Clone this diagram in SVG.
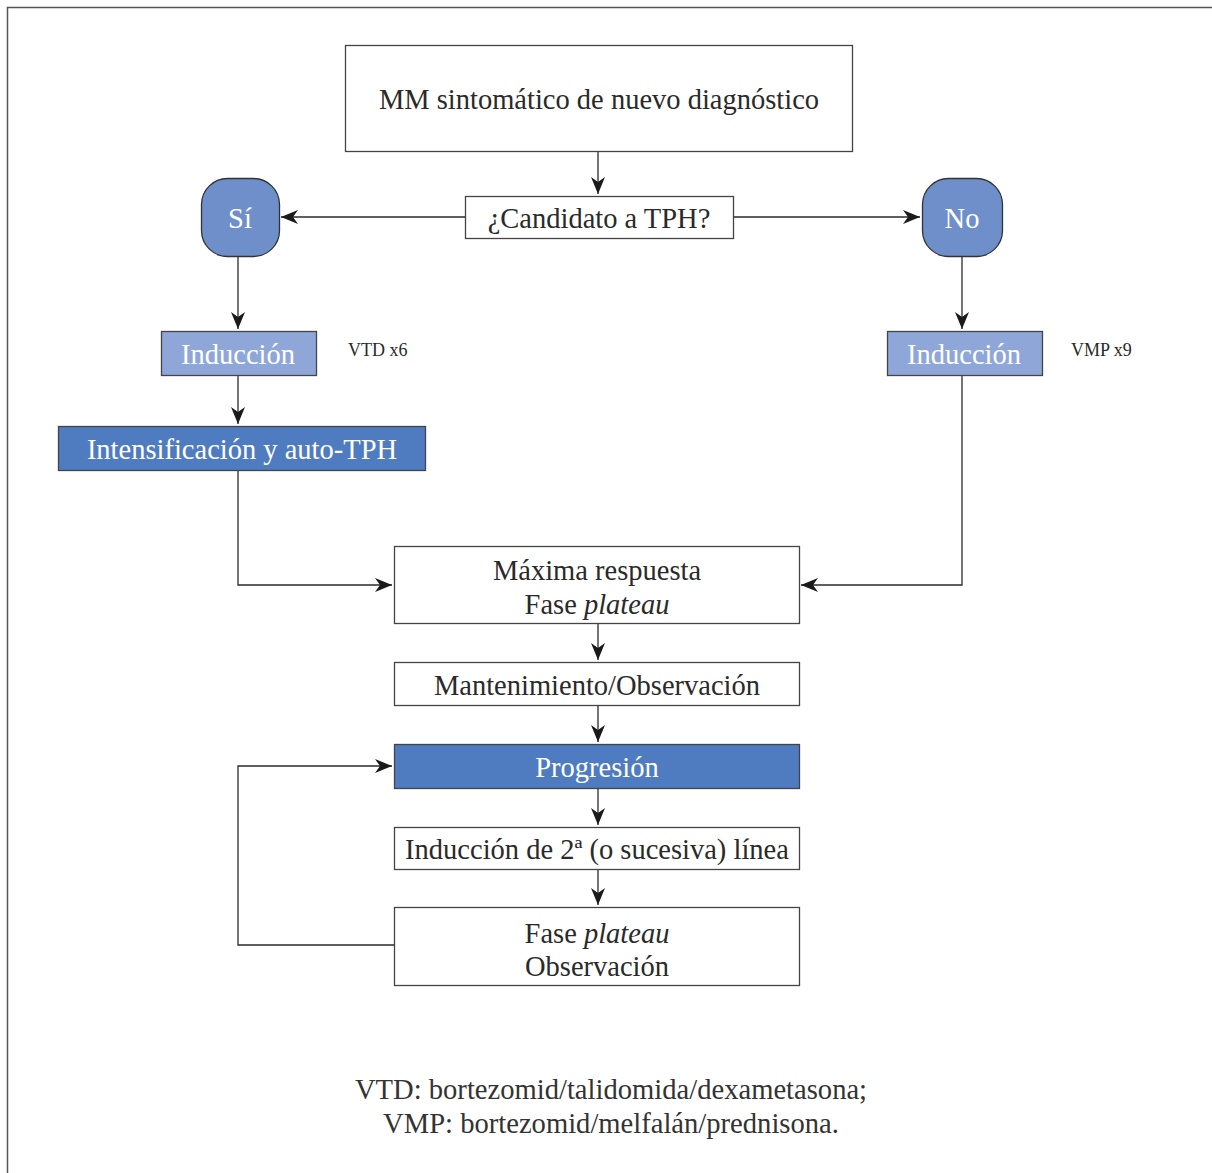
<svg xmlns="http://www.w3.org/2000/svg" width="1212" height="1173" viewBox="0 0 1212 1173">
<defs>
<marker id="ah" viewBox="0 0 17 14" refX="17" refY="7" markerWidth="17" markerHeight="14" markerUnits="userSpaceOnUse" orient="auto">
<path d="M0,0 L17,7 L0,14 L5,7 Z" fill="#1a1a1a"/>
</marker>
<style>
.box{fill:#fff;stroke:#444;stroke-width:1.3}
.c1{fill:#6e8fca;stroke:#333;stroke-width:1.3}
.c2{fill:#8fa7d8;stroke:#444;stroke-width:1.3}
.c3{fill:#4f7cc0;stroke:#444;stroke-width:1.3}
.t{font-family:"Liberation Serif","DejaVu Serif",serif;font-size:28.5px;fill:#2a2a2a;text-anchor:middle}
.w{fill:#fff}
.s{font-family:"Liberation Serif","DejaVu Serif",serif;font-size:18px;fill:#2a2a2a}
.f{font-family:"Liberation Serif","DejaVu Serif",serif;font-size:28.6px;fill:#333;text-anchor:middle}
.ln{fill:none;stroke:#2a2a2a;stroke-width:1.3}
</style>
</defs>
<rect width="1212" height="1173" fill="#fff"/>
<path d="M7.5,1173 V7.5 H1212" fill="none" stroke="#555" stroke-width="1.5"/>

<g id="connectors" class="ln">
<path d="M598,151 V194" marker-end="url(#ah)"/>
<path d="M465,217 H281" marker-end="url(#ah)"/>
<path d="M733,217 H920" marker-end="url(#ah)"/>
<path d="M238,256 V329" marker-end="url(#ah)"/>
<path d="M962,256 V329" marker-end="url(#ah)"/>
<path d="M238,375 V424" marker-end="url(#ah)"/>
<path d="M238,470 V585 H392" marker-end="url(#ah)"/>
<path d="M962,375 V585 H801" marker-end="url(#ah)"/>
<path d="M598,623 V660" marker-end="url(#ah)"/>
<path d="M598,705 V742" marker-end="url(#ah)"/>
<path d="M598,788 V825" marker-end="url(#ah)"/>
<path d="M598,869 V905" marker-end="url(#ah)"/>
<path d="M394,945 H238 V766 H392" marker-end="url(#ah)"/>
</g>

<g id="n-mm"><rect class="box" x="345.5" y="45.5" width="507" height="106"/><text class="t" x="599" y="109">MM sintomático de nuevo diagnóstico</text></g>
<g id="n-cand"><rect class="box" x="465.5" y="196.5" width="268" height="42"/><text class="t" x="599" y="228">¿Candidato a TPH?</text></g>
<g id="n-si"><rect class="c1" x="201.5" y="178.5" width="78" height="78" rx="26"/><text class="t w" x="240" y="228">Sí</text></g>
<g id="n-no"><rect class="c1" x="922.5" y="178.5" width="80" height="78" rx="26"/><text class="t w" x="962" y="228">No</text></g>
<g id="n-ind1"><rect class="c2" x="161.5" y="331.5" width="155" height="44"/><text class="t w" x="238" y="364">Inducción</text></g>
<text class="s" x="348" y="356">VTD x6</text>
<g id="n-ind2"><rect class="c2" x="887.5" y="331.5" width="155" height="44"/><text class="t w" x="964" y="364">Inducción</text></g>
<text class="s" x="1071" y="356">VMP x9</text>
<g id="n-int"><rect class="c3" x="58.5" y="426.5" width="367" height="44"/><text class="t w" x="242" y="459">Intensificación y auto-TPH</text></g>
<g id="n-max"><rect class="box" x="394.5" y="546.5" width="405" height="77"/><text class="t" x="597" y="580">Máxima respuesta</text><text class="t" x="597" y="614">Fase <tspan font-style="italic">plateau</tspan></text></g>
<g id="n-mant"><rect class="box" x="394.5" y="662.5" width="405" height="43"/><text class="t" x="597" y="695">Mantenimiento/Observación</text></g>
<g id="n-prog"><rect class="c3" x="394.5" y="744.5" width="405" height="44"/><text class="t w" x="597" y="777">Progresión</text></g>
<g id="n-ind3"><rect class="box" x="394.5" y="827.5" width="405" height="42"/><text class="t" x="597" y="859">Inducción de 2ª (o sucesiva) línea</text></g>
<g id="n-fase"><rect class="box" x="394.5" y="907.5" width="405" height="78"/><text class="t" x="597" y="943">Fase <tspan font-style="italic">plateau</tspan></text><text class="t" x="597" y="976">Observación</text></g>

<text class="f" x="611" y="1099">VTD: bortezomid/talidomida/dexametasona;</text>
<text class="f" x="611" y="1133">VMP: bortezomid/melfalán/prednisona.</text>
</svg>
